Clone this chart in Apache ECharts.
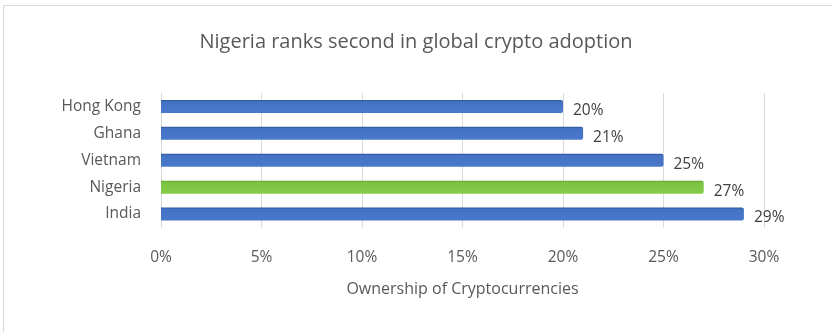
<!DOCTYPE html>
<html>
<head>
<meta charset="utf-8">
<script src="https://cdn.jsdelivr.net/npm/echarts@6/dist/echarts.min.js"></script>
<style>html,body{margin:0;padding:0;background:#fff;}#c{width:832px;height:332px;}</style>
</head>
<body>
<div id="c"></div>
<script>
const categories = ['India', 'Nigeria', 'Vietnam', 'Ghana', 'Hong Kong'];
const values = [29, 27, 25, 21, 20];
const highlight = 'Nigeria';
const tickLabels = ['0%', '5%', '10%', '15%', '20%', '25%', '30%'];

const font = '"Open Sans", Lato, sans-serif';
const blue = new echarts.graphic.LinearGradient(0, 0, 0, 1, [
  {offset: 0, color: '#2f5597'}, {offset: 0.15, color: '#4472c4'}, {offset: 1, color: '#4a78cc'}]);
const green = new echarts.graphic.LinearGradient(0, 0, 0, 1, [
  {offset: 0, color: '#5e9c2c'}, {offset: 0.15, color: '#7cc242'}, {offset: 1, color: '#86cc4a'}]);

const chart = echarts.init(document.getElementById('c'), null, {renderer: 'canvas'});
chart.setOption({
  animation: false,
  graphic: [{
    type: 'rect', left: 3, top: 5, shape: {width: 900, height: 400},
    style: {fill: '#fff', stroke: '#d9d9d9', lineWidth: 1}, z: -10
  }],
  title: {
    text: 'Nigeria ranks second in global crypto adoption',
    left: 'center', top: 27,
    textStyle: {fontFamily: font, fontSize: 20, fontWeight: 'normal', color: '#595959'}
  },
  grid: {left: 161, right: 68, top: 93, bottom: 104.5},
  xAxis: {
    type: 'value', min: 0, max: 30, interval: 5,
    name: 'Ownership of Cryptocurrencies', nameLocation: 'middle', nameGap: 54,
    nameTextStyle: {fontFamily: font, fontSize: 16, color: '#595959'},
    axisLine: {show: false}, axisTick: {show: false},
    axisLabel: {margin: 22, fontFamily: font, fontSize: 15.5, color: '#595959',
      formatter: (v) => tickLabels[Math.round(v / 5)]},
    splitLine: {lineStyle: {color: '#d9d9d9', width: 1}}
  },
  yAxis: {
    type: 'category', data: categories,
    axisLine: {show: false}, axisTick: {show: false},
    axisLabel: {margin: 20, fontFamily: font, fontSize: 15.5, color: '#595959'}
  },
  series: [{
    type: 'bar', barWidth: 13,
    data: values.map((v, i) => ({
      value: v,
      itemStyle: {color: categories[i] === highlight ? green : blue, borderRadius: [0, 2, 2, 0]}
    })),
    label: {
      show: true, position: 'right', distance: 10, offset: [0, 4],
      formatter: (p) => p.value + '%',
      fontFamily: font, fontSize: 15.5, color: '#404040'
    }
  }]
});
</script>
</body>
</html>
